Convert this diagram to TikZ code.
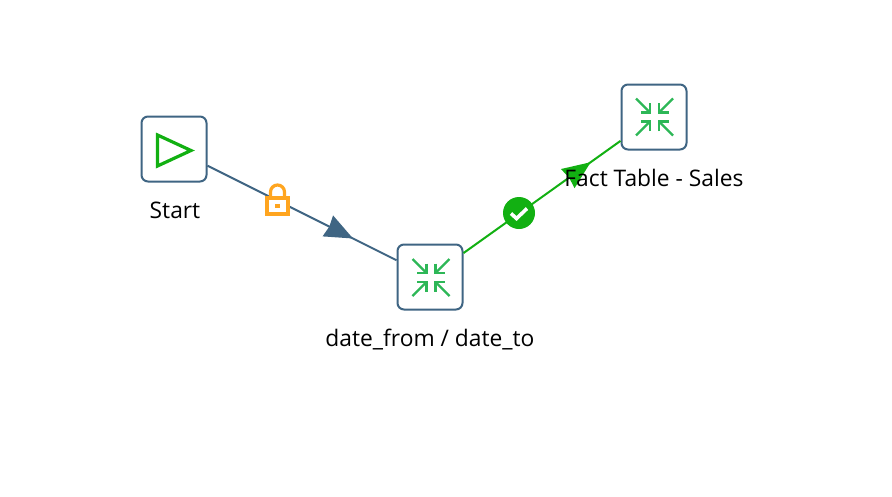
\documentclass[tikz,border=0pt]{standalone}
\usepackage{fontspec}
\setmainfont{Open Sans}
\usetikzlibrary{arrows.meta,decorations.markings}
\definecolor{hopblue}{HTML}{3F6583}
\definecolor{hopgreen}{HTML}{12B012}
\definecolor{pinch}{HTML}{2DB757}
\definecolor{lockc}{HTML}{FFA51F}
\tikzset{
  x=1pt,y=-1pt,
  stepbox/.style={draw=hopblue,line width=2pt,rounded corners=6.5pt,minimum size=65pt,inner sep=0pt,fill=white},
  lbl/.style={font=\fontsize{22.8}{27}\selectfont,text=black,inner sep=0pt},
  blueline/.style={draw=hopblue,line width=2pt,postaction={decorate},decoration={markings,mark=at position 0.77 with {\arrow[hopblue]{Stealth[length=28pt,width=23pt,inset=1.5pt]}}}},
  greenline/.style={draw=hopgreen,line width=2pt,postaction={decorate},decoration={markings,mark=at position 0.81 with {\arrow[hopgreen]{Stealth[length=28pt,width=23pt,inset=1.5pt]}}}},
  pinchline/.style={draw=pinch,line width=2.2pt},
  pinchpic/.pic={
    \foreach \sx/\sy in {-1/-1,1/-1,-1/1,1/1}{
      \draw[pinchline] (\sx*18.5,\sy*18.5) -- (\sx*5,\sy*5);
      \draw[pinchline] (\sx*4.5,\sy*14) -- (\sx*4.5,\sy*4.5) -- (\sx*14,\sy*4.5);
    }
  }
}
\begin{document}
\begin{tikzpicture}
\useasboundingbox (0,0) rectangle (892,496);
\fill[white] (0,0) rectangle (892,496);
\node[stepbox] (start) at (174,149) {};
\node[stepbox] (date) at (430,277) {};
\node[stepbox] (fact) at (654,117) {};
\draw[blueline] (start) -- (date);
\draw[greenline] (date) -- (fact);
% step icons
\draw[draw=hopgreen,line width=3.2pt,miter limit=10] (157.5,135) -- (157.5,166) -- (191,150.5) -- cycle;
\pic at (431,277.5) {pinchpic};
\pic at (654.5,117) {pinchpic};
% lock badge
\draw[lockc,line width=3.2pt,fill=white] (267,198) rectangle (288,214);
\draw[lockc,line width=3.2pt] (270.5,197) -- (270.5,192) arc[start angle=180,end angle=360,radius=7] -- (284.5,197);
\fill[lockc] (275,203.5) rectangle (279.5,208);
% check badge
\node[circle,fill=hopgreen,minimum size=32pt,inner sep=0pt] (ok) at (519,213) {};
\draw[white,line width=3.6pt] ([shift={(-8,0.5)}]ok.center) -- ([shift={(-2.5,5.5)}]ok.center) -- ([shift={(8,-4.5)}]ok.center);
% labels
\node[lbl] (l1) at (175,210) {Start};
\node[lbl] (l2) at (430,339.5) {date\_from / date\_to};
\node[lbl] (l3) at (654,178) {Fact Table - Sales};
\end{tikzpicture}
\end{document}
